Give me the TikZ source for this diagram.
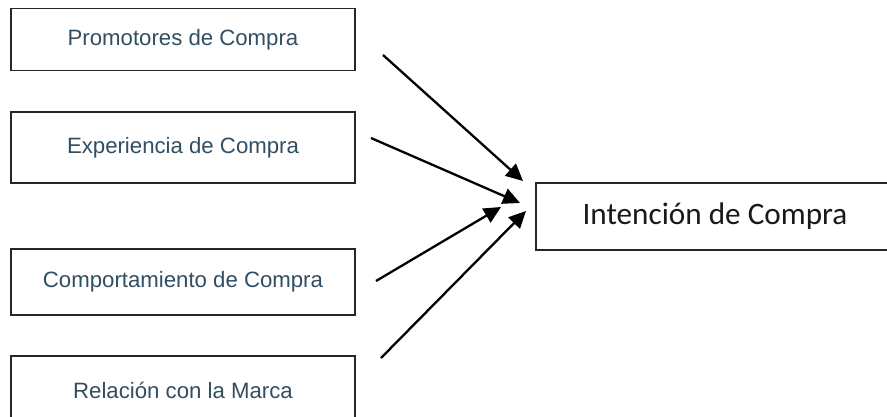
\documentclass[tikz,border=0pt]{standalone}
\usepackage{fontspec}
\setmainfont{Liberation Sans}
\newfontfamily\calib{Carlito}
\usetikzlibrary{arrows.meta}
\definecolor{txtblue}{RGB}{50,78,98}
\begin{document}
\begin{tikzpicture}[x=1pt,y=-1pt,
  srcbox/.style={draw=black!85, line width=1.3pt, rectangle, minimum width=344pt, inner sep=0pt, text=txtblue, font=\fontsize{22.2}{25}\selectfont},
  conn/.style={line width=2.3pt, -{Triangle[length=17pt,width=16pt]}}]
\clip (0,0) rectangle (887,417);
\fill[white] (0,0) rectangle (887,417);
\node[srcbox, minimum height=62pt] (pro) at (183,39.5) {Promotores de Compra};
\node[srcbox, minimum height=71pt] (exp) at (183,147.5) {Experiencia de Compra};
\node[srcbox, minimum height=66pt] (com) at (183,282) {Comportamiento de Compra};
\node[srcbox, minimum height=68pt] (rel) at (183,390) {Relación con la Marca};
\node[draw=black!85, line width=1.3pt, rectangle, minimum width=358pt, minimum height=67pt, inner sep=0pt, font=\calib\fontsize{31.2}{35}\selectfont, text=black!90] (int) at (715,216.5) {Intención de Compra};
\coordinate (s1) at (383,55);
\coordinate (t1) at (523,181);
\coordinate (s2) at (371,138);
\coordinate (t2) at (520,203);
\coordinate (s3) at (376,281);
\coordinate (t3) at (501,207);
\coordinate (s4) at (381,358);
\coordinate (t4) at (526,211);
\draw[conn] (s1) -- (t1);
\draw[conn] (s2) -- (t2);
\draw[conn] (s3) -- (t3);
\draw[conn] (s4) -- (t4);
\end{tikzpicture}
\end{document}
